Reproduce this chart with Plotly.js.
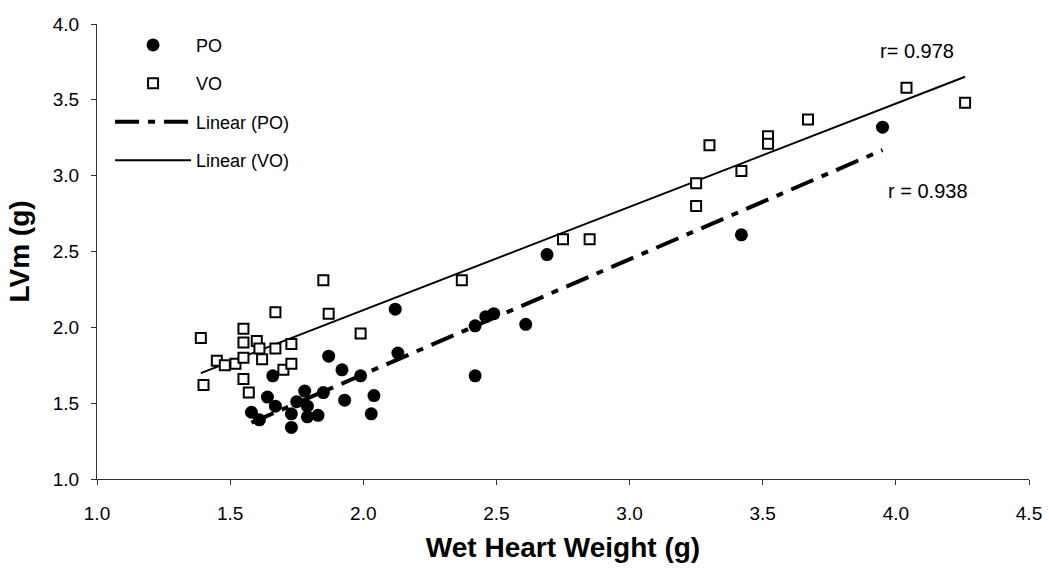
<!DOCTYPE html>
<html>
<head>
<meta charset="utf-8">
<script src="https://cdn.plot.ly/plotly-3.0.1.min.js"></script>
<style>html,body{margin:0;padding:0;background:#fff;}#chart{width:1049px;height:571px;}</style>
</head>
<body>
<div id="chart"></div>
<script>
// PO series (filled circles)
var poX = [1.58,1.61,1.64,1.66,1.67,1.73,1.73,1.75,1.78,1.79,1.79,1.83,1.85,1.87,1.92,1.93,1.99,2.03,2.04,2.12,2.13,2.42,2.42,2.46,2.49,2.61,2.69,3.42,3.95];
var poY = [1.44,1.39,1.54,1.68,1.48,1.34,1.43,1.51,1.58,1.41,1.48,1.42,1.57,1.81,1.72,1.52,1.68,1.43,1.55,2.12,1.83,2.01,1.68,2.07,2.09,2.02,2.48,2.61,3.32];
// VO series (open squares)
var voX = [1.39,1.40,1.45,1.48,1.52,1.55,1.55,1.55,1.55,1.57,1.60,1.61,1.62,1.67,1.67,1.70,1.73,1.73,1.85,1.87,1.99,2.37,2.75,2.85,3.25,3.25,3.30,3.42,3.52,3.52,3.67,4.04,4.26];
var voY = [1.93,1.62,1.78,1.75,1.76,1.99,1.90,1.66,1.80,1.57,1.91,1.86,1.79,2.10,1.86,1.72,1.89,1.76,2.31,2.09,1.96,2.31,2.58,2.58,2.95,2.80,3.20,3.03,3.26,3.21,3.37,3.58,3.48];
// correlation labels
var rLabels = ["r= 0.978", "r = 0.938"];
var rLabelX = [4.08, 4.12];
var rLabelY = [3.82, 2.90];

function fit(xs, ys) {
  var n = xs.length, sx = 0, sy = 0, sxx = 0, sxy = 0;
  for (var i = 0; i < n; i++) { sx += xs[i]; sy += ys[i]; sxx += xs[i]*xs[i]; sxy += xs[i]*ys[i]; }
  var b = (n*sxy - sx*sy) / (n*sxx - sx*sx);
  var a = (sy - b*sx) / n;
  var x0 = Math.min.apply(null, xs), x1 = Math.max.apply(null, xs);
  return {x: [x0, x1], y: [a + b*x0, a + b*x1]};
}
var poFit = fit(poX, poY), voFit = fit(voX, voY);

var FONT = "Arial, 'Liberation Sans', sans-serif";
var traces = [
  {x: poFit.x, y: poFit.y, mode: 'lines', name: 'Linear (PO)', legendrank: 3, legendgroup: 'c',
   line: {color: '#000', width: 4, dash: '24px,9px,7px,9px'}},
  {x: voFit.x, y: voFit.y, mode: 'lines', name: 'Linear (VO)', legendrank: 4, legendgroup: 'd',
   line: {color: '#000', width: 2}},
  {x: poX, y: poY, mode: 'markers', name: 'PO', legendrank: 1, legendgroup: 'a',
   marker: {symbol: 'circle', size: 13, color: '#000'}},
  {x: voX, y: voY, mode: 'markers', name: 'VO', legendrank: 2, legendgroup: 'b',
   marker: {symbol: 'square', size: 10, color: '#fff', line: {color: '#000', width: 2}}}
];

var annotations = rLabels.map(function (t, i) {
  return {x: rLabelX[i], y: rLabelY[i], xref: 'x', yref: 'y', text: t, showarrow: false,
          font: {family: FONT, size: 20, color: '#000'}};
});

var layout = {
  width: 1049, height: 571,
  margin: {l: 97, r: 20, t: 24, b: 92},
  paper_bgcolor: '#fff', plot_bgcolor: '#fff',
  font: {family: FONT, color: '#000'},
  showlegend: true,
  legend: {x: 0.014, y: 0.994, xanchor: 'left', yanchor: 'top', bgcolor: 'rgba(0,0,0,0)',
           font: {family: FONT, size: 18, color: '#000'}, itemwidth: 76, tracegroupgap: 12,
           traceorder: 'grouped'},
  xaxis: {range: [1.0, 4.5], dtick: 0.5, tick0: 1.0, tickformat: '.1f',
          showgrid: false, zeroline: false, showline: true, linecolor: '#333', linewidth: 1,
          ticks: 'outside', ticklen: 5, tickcolor: '#333', ticklabelstandoff: 12,
          tickfont: {family: FONT, size: 19, color: '#000'},
          title: {text: 'Wet Heart Weight (g)', standoff: 14,
                  font: {family: FONT, size: 28, color: '#000', weight: 'bold'}}},
  yaxis: {range: [1.0, 4.0], dtick: 0.5, tick0: 1.0, tickformat: '.1f',
          showgrid: false, zeroline: false, showline: true, linecolor: '#333', linewidth: 1,
          ticks: 'outside', ticklen: 5, tickcolor: '#333', ticklabelstandoff: 8,
          tickfont: {family: FONT, size: 19, color: '#000'},
          title: {text: 'LVm (g)', standoff: 14,
                  font: {family: FONT, size: 28, color: '#000', weight: 'bold'}}},
  annotations: annotations
};

Plotly.newPlot('chart', traces, layout, {displayModeBar: false, staticPlot: true});
</script>
</body>
</html>
